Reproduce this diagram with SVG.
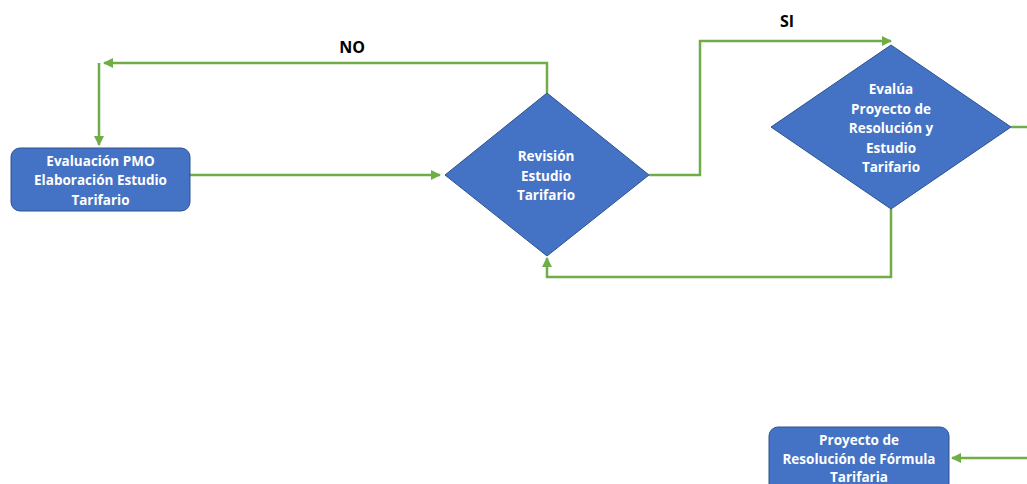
<svg xmlns="http://www.w3.org/2000/svg" width="1027" height="484" viewBox="0 0 1027 484">
<style>
.shape{fill:#4472C4;stroke:#2F528F;stroke-width:1}
.t{font-family:"Open Sans","Liberation Sans",sans-serif;font-weight:bold;font-size:13.5px;fill:#fff;text-anchor:middle}
.lbl{font-family:"Open Sans","Liberation Sans",sans-serif;font-weight:bold;font-size:16px;fill:#000;text-anchor:middle}
.c{fill:none;stroke:#70AD47;stroke-width:2.5}
</style>
<defs>
<marker id="ah" viewBox="0 0 10 10" refX="9" refY="5" markerWidth="4" markerHeight="4" orient="auto" markerUnits="strokeWidth">
<path d="M0,0 L10,5 L0,10 z" fill="#70AD47"/>
</marker>
</defs>
<rect width="1027" height="484" fill="#fff"/>
<g id="connectors">
<path class="c" d="M190,175 H440" marker-end="url(#ah)"/>
<path class="c" d="M547,93 V63 H104" marker-end="url(#ah)"/>
<path class="c" d="M99,63 V145" marker-end="url(#ah)"/>
<path class="c" d="M649,175 H700 V41 H891" marker-end="url(#ah)"/>
<path class="c" d="M1011,127 H1027"/>
<path class="c" d="M891,209 V277 H547 V258" marker-end="url(#ah)"/>
<path class="c" d="M1027,458 H952" marker-end="url(#ah)"/>
</g>
<g id="n1">
<rect class="shape" x="11" y="148" width="179" height="63" rx="9"/>
<text class="t" x="100.5" y="165.5">Evaluación PMO</text>
<text class="t" x="100.5" y="185">Elaboración Estudio</text>
<text class="t" x="100.5" y="204.5">Tarifario</text>
</g>
<g id="n2">
<polygon class="shape" points="547,93 649,175 547,256 445,175"/>
<text class="t" x="546" y="161">Revisión</text>
<text class="t" x="546" y="180.5">Estudio</text>
<text class="t" x="546" y="199.5">Tarifario</text>
</g>
<g id="n3">
<polygon class="shape" points="891,45 1011,127 891,209 771,127"/>
<text class="t" x="891" y="94">Evalúa</text>
<text class="t" x="891" y="113.5">Proyecto de</text>
<text class="t" x="891" y="133">Resolución y</text>
<text class="t" x="891" y="152.5">Estudio</text>
<text class="t" x="891" y="171.5">Tarifario</text>
</g>
<g id="n4">
<rect class="shape" x="769" y="427" width="180" height="70" rx="9"/>
<text class="t" x="859" y="444.5">Proyecto de</text>
<text class="t" x="859" y="464">Resolución de Fórmula</text>
<text class="t" x="859" y="482">Tarifaria</text>
</g>
<g id="labels">
<text class="lbl" x="352" y="53">NO</text>
<text class="lbl" x="787" y="27">SI</text>
</g>
</svg>
